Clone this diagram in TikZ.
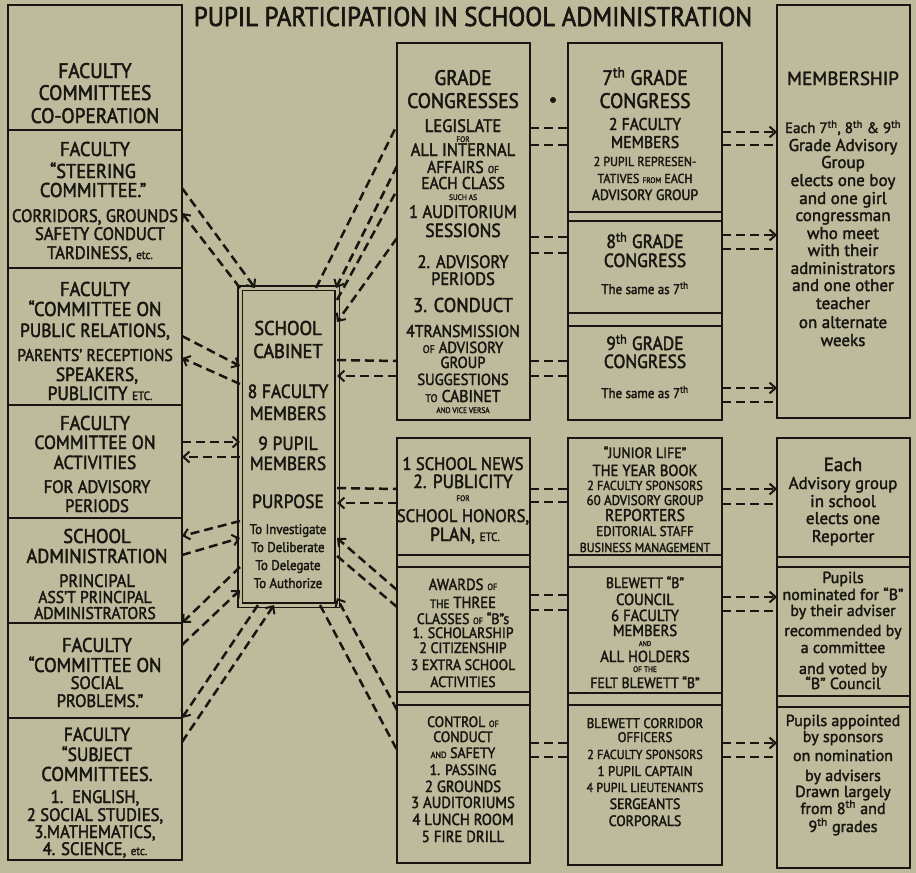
\documentclass[tikz,border=0pt]{standalone}
\usepackage{fontspec}
\setmainfont{PT Sans}[FakeStretch=0.92,FakeBold=2.2]
\newfontfamily\hand{PT Sans}[FakeBold=2]
\usetikzlibrary{arrows.meta}
\definecolor{paper}{RGB}{189,187,155}
\definecolor{ink}{RGB}{25,22,18}
\newcommand\fs[1]{\fontsize{#1}{#1}\selectfont}
\newcount\tlc
\newcommand\tl[4]{\global\advance\tlc by 1\relax\node[txt,font=\fs{#1}] (tl\the\tlc) at (#2,#3) {#4};}
\newcommand\hl[4]{\global\advance\tlc by 1\relax\node[txt,font=\hand\fs{#1}] (tl\the\tlc) at (#2,#3) {#4};}
\newcommand\bx[6][]{\node[box,#1,minimum width={(#4-#2)*1pt},minimum height={(#6-#3)*1pt}] (#5) at ({(#2+#4)/2},{(#3+#6)/2}) {};}
\tikzset{
  box/.style={draw=ink,line width=2.6pt,inner sep=0pt,outer sep=0pt},
  txt/.style={text=ink,inner sep=0pt,anchor=base},
  dl/.style={draw=ink,line width=2.5pt,dash pattern=on 9pt off 5pt},
  ar/.style={dl,-{Straight Barb[length=6pt,width=11pt,line width=2pt]}},
}
\begin{document}
\begin{tikzpicture}[x=1pt,y=-1pt]
\fill[paper] (0,0) rectangle (916,873);
\useasboundingbox (0,0) rectangle (916,873);
% title
\node[txt,font=\fs{27}] (title) at (473,26) {PUPIL PARTICIPATION IN SCHOOL ADMINISTRATION};
% left column
\bx{8}{5}{182}{fc}{130}
\bx{8}{130}{182}{steer}{268}
\bx{8}{268}{182}{pr}{405}
\bx{8}{405}{182}{act}{518}
\bx{8}{518}{182}{adm}{623}
\bx{8}{623}{182}{soc}{718}
\bx{8}{718}{182}{subj}{860}
% cabinet
\node[draw=ink,line width=1.8pt,double=paper,double distance=3pt,inner sep=0pt,outer sep=0pt,minimum width=97pt,minimum height=317pt] (cab) at (288.5,446.5) {};
% grade congresses column
\bx{397}{43}{530}{gc}{420}
\bx{568}{43}{722}{colA}{420}
\bx{568}{43}{722}{c7}{212}
\bx{568}{221}{722}{c8}{313}
\bx{568}{326}{722}{c9}{420}
\bx{777}{5}{910}{mem}{418}
% lower
\bx{397}{438}{530}{colB}{863}
\bx{397}{438}{530}{news}{555}
\bx{397}{567}{530}{awd}{692}
\bx{397}{705}{530}{ctl}{863}
\bx{568}{438}{722}{colC}{865}
\bx{568}{438}{722}{jl}{555}
\bx{568}{567}{722}{bc}{693}
\bx{568}{705}{722}{cor}{865}
\bx{777}{438}{910}{colD}{868}
\bx{777}{438}{910}{rep}{557}
\bx{777}{567}{910}{nom}{696}
\bx{777}{707}{910}{app}{868}
\fill[ink] (553,100) circle (3pt) coordinate (dot);
% ---- left texts
\tl{21}{95}{78}{FACULTY}
\tl{21}{95}{100}{COMMITTEES}
\tl{21}{95}{123}{CO-OPERATION}
\tl{20}{95}{156}{FACULTY}
\tl{20}{93}{178}{“STEERING}
\tl{20}{93}{197}{COMMITTEE.”}
\tl{18}{95}{222}{CORRIDORS, GROUNDS}
\tl{18}{100}{240}{SAFETY CONDUCT}
\tl{18}{100}{259}{TARDINESS, {\fs{12}etc.}}
\tl{20}{95}{296}{FACULTY}
\tl{20}{95}{316}{“COMMITTEE ON}
\tl{19}{95}{337}{PUBLIC RELATIONS,}
\tl{17}{95}{361}{PARENTS' RECEPTIONS}
\tl{19}{97}{381}{SPEAKERS,}
\tl{19}{100}{400}{PUBLICITY {\fs{12}ETC.}}
\tl{20}{95}{430}{FACULTY}
\tl{19}{95}{449}{COMMITTEE ON}
\tl{19}{95}{469}{ACTIVITIES}
\tl{18}{97}{493}{FOR ADVISORY}
\tl{18}{97}{512}{PERIODS}
\tl{20}{97}{543}{SCHOOL}
\tl{20}{97}{563}{ADMINISTRATION}
\tl{18}{97}{587}{PRINCIPAL}
\tl{17}{95}{603}{ASS'T PRINCIPAL}
\tl{17}{95}{619}{ADMINISTRATORS}
\tl{20}{97}{652}{FACULTY}
\tl{20}{95}{672}{“COMMITTEE ON}
\tl{18}{97}{689}{SOCIAL}
\tl{18}{100}{707}{PROBLEMS.”}
\tl{19}{97}{741}{FACULTY}
\tl{19}{97}{761}{“SUBJECT}
\tl{20}{97}{781}{COMMITTEES.}
\tl{18}{95}{803}{1.\ \ ENGLISH,}
\tl{18}{95}{821}{2 SOCIAL STUDIES,}
\tl{18}{95}{838}{3.MATHEMATICS,}
\tl{18}{95}{855}{4. SCIENCE, {\fs{12}etc.}}
% ---- cabinet texts
\tl{20}{288}{335}{SCHOOL}
\tl{20}{288}{358}{CABINET}
\tl{19}{288}{398}{8 FACULTY}
\tl{19}{288}{420}{MEMBERS}
\tl{19}{288}{450}{9 PUPIL}
\tl{19}{288}{470}{MEMBERS}
\tl{19}{288}{508}{PURPOSE}
\tl{14}{288}{534}{To Investigate}
\tl{14}{288}{552}{To Deliberate}
\tl{14}{288}{570}{To Delegate}
\tl{14}{288}{588}{To Authorize}
% ---- grade congresses
\tl{21}{463}{85}{GRADE}
\tl{21}{463}{108}{CONGRESSES}
\tl{18}{463}{132}{LEGISLATE}
\tl{8}{463}{142}{FOR}
\tl{18}{463}{156}{ALL INTERNAL}
\tl{17}{463}{173}{AFFAIRS {\fs{10}OF}}
\tl{17}{463}{189}{EACH CLASS}
\tl{8}{463}{200}{SUCH AS}
\tl{18}{463}{218}{1 AUDITORIUM}
\tl{19}{463}{237}{SESSIONS}
\tl{18}{463}{268}{2. ADVISORY}
\tl{18}{463}{285}{PERIODS}
\tl{20}{463}{312}{3. CONDUCT}
\tl{17}{463}{337}{4TRANSMISSION}
\tl{16}{463}{353}{{\fs{11}OF} ADVISORY}
\tl{16}{463}{368}{GROUP}
\tl{16}{463}{385}{SUGGESTIONS}
\tl{17}{463}{402}{{\fs{11}TO} CABINET}
\tl{8}{463}{413}{AND VICE VERSA}
% ---- 7th 8th 9th
\tl{21}{645}{85}{7\textsuperscript{th} GRADE}
\tl{21}{645}{108}{CONGRESS}
\tl{17}{645}{130}{2 FACULTY}
\tl{17}{645}{148}{MEMBERS}
\tl{13}{645}{166}{2 PUPIL REPRESEN-}
\tl{13}{645}{183}{TATIVES {\fs{8}FROM} EACH}
\tl{15}{645}{200}{ADVISORY GROUP}
\tl{19}{645}{248}{8\textsuperscript{th} GRADE}
\tl{19}{645}{267}{CONGRESS}
\tl{14}{645}{294}{The same as 7\textsuperscript{th}}
\tl{19}{645}{350}{9\textsuperscript{th} GRADE}
\tl{19}{645}{368}{CONGRESS}
\tl{14}{645}{398}{The same as 7\textsuperscript{th}}
% ---- membership
\hl{19}{843}{85}{MEMBERSHIP}
\hl{15}{843}{133}{Each 7\textsuperscript{th}, 8\textsuperscript{th} \& 9\textsuperscript{th}}
\hl{17}{843}{151}{Grade Advisory}
\hl{17}{843}{168}{Group}
\hl{17}{843}{186}{elects one boy}
\hl{17}{843}{204}{and one girl}
\hl{17}{843}{221}{congressman}
\hl{17}{843}{239}{who meet}
\hl{17}{843}{256}{with their}
\hl{17}{843}{274}{administrators}
\hl{17}{843}{291}{and one other}
\hl{17}{843}{309}{teacher}
\hl{17}{843}{328}{on alternate}
\hl{17}{843}{346}{weeks}
% ---- lower middle left
\tl{18}{463}{470}{1 SCHOOL NEWS}
\tl{19}{463}{488}{2. PUBLICITY}
\tl{8}{463}{501}{FOR}
\tl{18}{463}{522}{SCHOOL HONORS,}
\tl{19}{465}{541}{PLAN, {\fs{12}ETC.}}
\tl{16}{463}{590}{AWARDS {\fs{9}OF}}
\tl{16}{463}{608}{{\fs{12}THE} THREE}
\tl{15}{463}{624}{CLASSES {\fs{9}OF} “B”s}
\tl{15}{463}{638}{1. SCHOLARSHIP}
\tl{15}{463}{653}{2 CITIZENSHIP}
\tl{15}{463}{670}{3 EXTRA SCHOOL}
\tl{15}{463}{687}{ACTIVITIES}
\tl{15}{463}{727}{CONTROL {\fs{9}OF}}
\tl{15}{463}{742}{CONDUCT}
\tl{15}{463}{758}{{\fs{9}AND} SAFETY}
\tl{15}{463}{775}{1. PASSING}
\tl{16}{463}{792}{2 GROUNDS}
\tl{16}{463}{808}{3 AUDITORIUMS}
\tl{16}{463}{825}{4 LUNCH ROOM}
\tl{16}{463}{842}{5 FIRE DRILL}
% ---- lower middle right
\tl{15}{645}{458}{“JUNIOR LIFE”}
\tl{16}{645}{476}{THE YEAR BOOK}
\tl{13}{645}{490}{2 FACULTY SPONSORS}
\tl{14}{645}{505}{60 ADVISORY GROUP}
\tl{17}{645}{521}{REPORTERS}
\tl{14}{645}{536}{EDITORIAL STAFF}
\tl{13}{645}{552}{BUSINESS MANAGEMENT}
\tl{15}{645}{588}{BLEWETT “B”}
\tl{16}{645}{605}{COUNCIL}
\tl{16}{645}{621}{6 FACULTY}
\tl{16}{645}{636}{MEMBERS}
\tl{7}{645}{646}{AND}
\tl{16}{645}{662}{ALL HOLDERS}
\tl{8}{645}{672}{OF THE}
\tl{15}{645}{688}{FELT BLEWETT “B”}
\tl{14}{645}{728}{BLEWETT CORRIDOR}
\tl{14}{645}{742}{OFFICERS}
\tl{13}{645}{759}{2 FACULTY SPONSORS}
\tl{14}{645}{776}{1 PUPIL CAPTAIN}
\tl{13}{645}{792}{4 PUPIL LIEUTENANTS}
\tl{15}{645}{809}{SERGEANTS}
\tl{15}{645}{826}{CORPORALS}
% ---- right lower
\hl{19}{843}{471}{Each}
\hl{17}{843}{489}{Advisory group}
\hl{17}{843}{507}{in school}
\hl{17}{843}{524}{elects one}
\hl{17}{843}{542}{Reporter}
\hl{16}{843}{583}{Pupils}
\hl{16}{843}{600}{nominated for “B”}
\hl{16}{843}{616}{by their adviser}
\hl{16}{843}{636}{recommended by}
\hl{16}{843}{653}{a committee}
\hl{16}{843}{674}{and voted by}
\hl{16}{843}{689}{“B” Council}
\hl{16}{843}{726}{Pupils appointed}
\hl{16}{843}{742}{by sponsors}
\hl{16}{843}{761}{on nomination}
\hl{16}{843}{781}{by advisers}
\hl{16}{843}{797}{Drawn largely}
\hl{16}{843}{814}{from 8\textsuperscript{th} and}
\hl{16}{843}{832}{9\textsuperscript{th} grades}
% ---- connectors: left column <-> cabinet
\draw[ar] (steer.east |- 0,188) -- (cab.north -| 255,0);
\draw[ar] (cab.north west) -- (steer.east |- 0,213);
\draw[ar] (pr.east |- 0,336) -- (cab.west |- 0,366);
\draw[ar] (cab.west |- 0,384) -- (pr.east |- 0,358);
\draw[ar] (act.east |- 0,442) -- (cab.west |- 0,442);
\draw[ar] (cab.west |- 0,457) -- (act.east |- 0,457);
\draw[ar] (cab.west |- 0,521) -- (adm.east |- 0,536);
\draw[ar] (adm.east |- 0,555) -- (cab.west |- 0,538);
\draw[ar] (cab.west |- 0,567) -- (soc.north east);
\draw[ar] (soc.east |- 0,645) -- (cab.west |- 0,590);
\draw[ar] (cab.south -| 258,0) -- (subj.north east);
\draw[ar] (subj.east |- 0,742) -- (cab.south -| 274,0);
% ---- cabinet <-> grade congresses
\draw[dl] (cab.north -| 316,0) -- (gc.west |- 0,125);
\draw[ar] (gc.west |- 0,166) -- (cab.north -| 336,0);
\draw[dl] (cab.east |- 0,300) -- (gc.west |- 0,190);
\draw[ar] (gc.west |- 0,238) -- (cab.east |- 0,322);
\draw[dl] (cab.east |- 0,360) -- (gc.west |- 0,361);
\draw[ar] (gc.west |- 0,376) -- (cab.east |- 0,376);
\draw[dl] (cab.east |- 0,488) -- (news.west |- 0,489);
\draw[ar] (news.west |- 0,503) -- (cab.east |- 0,503);
\draw[ar] (awd.west |- 0,590) -- (cab.east |- 0,538);
\draw[dl] (cab.east |- 0,556) -- (awd.west |- 0,607);
\draw[ar] (ctl.west |- 0,710) -- (cab.east |- 0,598);
\draw[dl] (cab.south -| 320,0) -- (ctl.west |- 0,750);
% ---- middle short connectors
\draw[dl] (gc.east |- 0,128) -- (c7.west |- 0,128);
\draw[dl] (gc.east |- 0,145) -- (c7.west |- 0,145);
\draw[dl] (gc.east |- 0,237) -- (c8.west |- 0,237);
\draw[dl] (gc.east |- 0,253) -- (c8.west |- 0,253);
\draw[dl] (gc.east |- 0,361) -- (c9.west |- 0,361);
\draw[dl] (gc.east |- 0,376) -- (c9.west |- 0,376);
\draw[dl] (news.east |- 0,489) -- (jl.west |- 0,489);
\draw[dl] (news.east |- 0,502) -- (jl.west |- 0,502);
\draw[dl] (awd.east |- 0,595) -- (bc.west |- 0,595);
\draw[dl] (awd.east |- 0,610) -- (bc.west |- 0,610);
\draw[dl] (ctl.east |- 0,743) -- (cor.west |- 0,743);
\draw[dl] (ctl.east |- 0,757) -- (cor.west |- 0,757);
% ---- right connectors
\draw[ar] (c7.east |- 0,132) -- (mem.west |- 0,132);
\draw[dl] (c7.east |- 0,145) -- (mem.west |- 0,145);
\draw[ar] (c8.east |- 0,235) -- (mem.west |- 0,235);
\draw[dl] (c8.east |- 0,249) -- (mem.west |- 0,249);
\draw[ar] (c9.east |- 0,388) -- (mem.west |- 0,388);
\draw[dl] (c9.east |- 0,402) -- (mem.west |- 0,402);
\draw[ar] (jl.east |- 0,489) -- (rep.west |- 0,489);
\draw[dl] (jl.east |- 0,504) -- (rep.west |- 0,504);
\draw[ar] (bc.east |- 0,597) -- (nom.west |- 0,597);
\draw[dl] (bc.east |- 0,611) -- (nom.west |- 0,611);
\draw[ar] (cor.east |- 0,743) -- (app.west |- 0,743);
\draw[dl] (cor.east |- 0,757) -- (app.west |- 0,757);
\end{tikzpicture}
\end{document}
